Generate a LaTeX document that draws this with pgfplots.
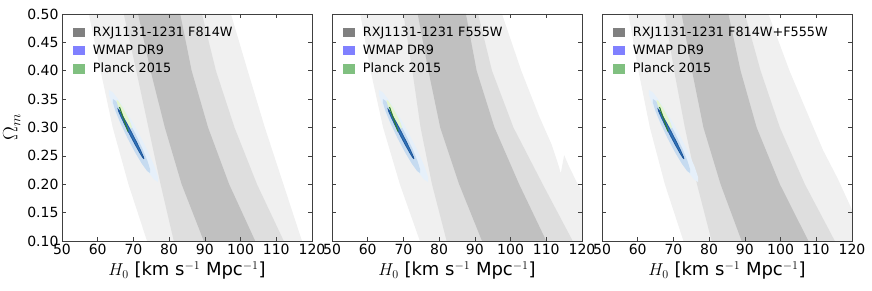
\documentclass[border=0pt]{standalone}
\usepackage{fontspec}
\setmainfont{DejaVu Sans}
\usepackage{pgfplots}
\pgfplotsset{compat=1.18}
\definecolor{gL}{HTML}{F0F0F0}
\definecolor{gM}{HTML}{DEDEDE}
\definecolor{gD}{HTML}{C0C0C0}
\definecolor{wm3}{HTML}{E6F0FA}
\definecolor{wm2}{HTML}{C6DBF0}
\definecolor{wm1}{HTML}{3373B8}
\definecolor{wm1e}{HTML}{1B559A}
\definecolor{pl2}{HTML}{E4F5CF}
\definecolor{pl1}{HTML}{2E7D32}
\definecolor{legG}{HTML}{808080}
\definecolor{legB}{HTML}{8080FF}
\definecolor{legP}{HTML}{80C080}

\newcommand{\cosmo}{%
\addplot[fill=wm3, draw=none, forget plot] coordinates {
(76.88,0.2039)(76.93,0.2120)(75.92,0.2312)(74.02,0.2585)(71.50,0.2900)(68.76,0.3207)(66.22,0.3458)(64.25,0.3618)
(63.16,0.3661)(63.11,0.3580)(64.12,0.3388)(66.02,0.3115)(68.54,0.2800)(71.28,0.2493)(73.82,0.2242)(75.79,0.2082)(76.88,0.2039)};
\addplot[fill=wm2, draw=none, forget plot] coordinates {
(74.64,0.2198)(74.68,0.2261)(73.92,0.2414)(72.48,0.2633)(70.59,0.2885)(68.52,0.3132)(66.59,0.3336)(65.11,0.3466)
(64.28,0.3502)(64.24,0.3439)(65.00,0.3286)(66.44,0.3067)(68.33,0.2815)(70.40,0.2568)(72.33,0.2364)(73.82,0.2234)(74.64,0.2198)};
\addplot[fill=pl2, draw=none, forget plot] coordinates {
(69.52,0.2984)(69.55,0.3009)(69.25,0.3069)(68.68,0.3153)(67.92,0.3250)(67.07,0.3345)(66.29,0.3422)(65.67,0.3471)
(65.32,0.3484)(65.29,0.3459)(65.59,0.3399)(66.16,0.3315)(66.93,0.3218)(67.77,0.3123)(68.56,0.3046)(69.17,0.2997)(69.52,0.2984)};
\addplot[fill=wm1, draw=wm1e, line width=0.7pt, forget plot] coordinates {
(72.96,0.2445)(72.81,0.2482)(72.12,0.2581)(71.01,0.2726)(69.64,0.2896)(68.22,0.3064)(66.98,0.3204)(66.08,0.3296)
(65.68,0.3326)(65.83,0.3288)(66.52,0.3189)(67.63,0.3044)(69.00,0.2874)(70.42,0.2707)(71.67,0.2566)(72.56,0.2474)(72.96,0.2445)};
\addplot[draw=pl1, line width=1.1pt, forget plot] coordinates {(66.1,0.336)(68.5,0.293)};
}

\pgfplotsset{
  panel/.style={
    scale only axis, width=250pt, height=227pt,
    xmin=50, xmax=120, ymin=0.1, ymax=0.5,
    xtick={50,60,70,80,90,100,110,120},
    ytick={0.1,0.15,0.2,0.25,0.3,0.35,0.4,0.45,0.5},
    yticklabel style={/pgf/number format/.cd, fixed, fixed zerofill, precision=2},
    /pgf/number format/assume math mode=true,
    tick align=inside, major tick length=4pt,
    axis line style={black!75, line width=0.8pt},
    tick style={black!75, line width=0.6pt},
    tick label style={font=\fontsize{14}{16}\selectfont},
    xlabel style={font=\fontsize{18}{20}\selectfont},
    ylabel style={font=\fontsize{20}{22}\selectfont},
    xlabel={$H_0$ [km s$^{-1}$ Mpc$^{-1}$]},
    axis on top,
    legend style={at={(0.032,0.959)}, anchor=north west, draw=none, fill=none,
      font=\fontsize{12.8}{15}\selectfont, row sep=4.2pt,
      nodes={inner sep=1pt, text height=9.5pt, text depth=2.5pt},
      /tikz/every odd column/.append style={column sep=7pt}},
    legend cell align=left,
    legend image code/.code={\fill[##1, draw=none] (0pt,-4.6pt) rectangle (11.7pt,4.6pt);},
  }
}

\begin{document}
\begin{tikzpicture}
% ---------- Panel 1 ----------
\begin{axis}[panel, at={(0pt,0pt)}, ylabel={$\Omega_m$}]
\addlegendimage{fill=legG, draw=none}\addlegendentry{RXJ1131-1231 F814W}
\addlegendimage{fill=legB, draw=none}\addlegendentry{WMAP DR9}
\addlegendimage{fill=legP, draw=none}\addlegendentry{Planck 2015}
\addplot[fill=gL, draw=none, forget plot] coordinates {
(57.5,0.5)(60.8,0.4)(64.2,0.3)(68.6,0.2)(73.8,0.1)(117.2,0.1)(112.0,0.2)(106.8,0.3)(102.0,0.4)(97.3,0.5)};
\addplot[fill=gM, draw=none, forget plot] coordinates {
(67.3,0.5)(70.8,0.4)(74.2,0.3)(77.6,0.2)(81.3,0.1)(112.1,0.1)(104.6,0.2)(98.3,0.3)(93.1,0.4)(89.2,0.5)};
\addplot[fill=gD, draw=none, forget plot] coordinates {
(71.3,0.5)(74.8,0.4)(78.8,0.3)(83.5,0.2)(89.7,0.1)(104.1,0.1)(96.8,0.2)(90.9,0.3)(86.3,0.4)(83.1,0.5)};
\cosmo
\end{axis}
% ---------- Panel 2 ----------
\begin{axis}[panel, at={(270pt,0pt)}, yticklabels={}]
\addlegendimage{fill=legG, draw=none}\addlegendentry{RXJ1131-1231 F555W}
\addlegendimage{fill=legB, draw=none}\addlegendentry{WMAP DR9}
\addlegendimage{fill=legP, draw=none}\addlegendentry{Planck 2015}
\addplot[fill=gL, draw=none, forget plot] coordinates {
(57.9,0.5)(60.8,0.4)(64.3,0.3)(69.0,0.2)(74.6,0.1)(121,0.1)(121,0.18)(118.7,0.2016)(116.4,0.231)(115.0,0.2515)
(114.05,0.219)(113.6,0.23)(111.5,0.27)(108.0,0.32)(103.0,0.4)(97.6,0.5)};
\addplot[fill=gM, draw=none, forget plot] coordinates {
(70.0,0.5)(72.5,0.4)(74.8,0.3)(78.0,0.2)(82.1,0.1)(117.4,0.1)(109.0,0.2)(100.8,0.3)(94.8,0.4)(90.9,0.5)};
\addplot[fill=gD, draw=none, forget plot] coordinates {
(74.0,0.5)(77.0,0.4)(80.3,0.3)(85.6,0.2)(92.0,0.1)(110.0,0.1)(102.4,0.2)(95.5,0.3)(90.5,0.4)(87.5,0.5)};
\cosmo
\end{axis}
% ---------- Panel 3 ----------
\begin{axis}[panel, at={(540pt,0pt)}, yticklabels={}]
\addlegendimage{fill=legG, draw=none}\addlegendentry{RXJ1131-1231 F814W+F555W}
\addlegendimage{fill=legB, draw=none}\addlegendentry{WMAP DR9}
\addlegendimage{fill=legP, draw=none}\addlegendentry{Planck 2015}
\addplot[fill=gL, draw=none, forget plot] coordinates {
(57.4,0.5)(60.2,0.4)(63.4,0.3)(67.6,0.2)(72.8,0.1)(121,0.1)(121,0.14)(120,0.155)(116,0.21)(111.9,0.26)(109.2,0.3)(102.5,0.4)(96.6,0.5)};
\addplot[fill=gM, draw=none, forget plot] coordinates {
(67.6,0.5)(70.2,0.4)(73.2,0.3)(76.6,0.2)(80.7,0.1)(115.2,0.1)(106.8,0.2)(99.8,0.3)(94.4,0.4)(90.0,0.5)};
\addplot[fill=gD, draw=none, forget plot] coordinates {
(72.3,0.5)(75.2,0.4)(78.4,0.3)(83.2,0.2)(89.1,0.1)(107.8,0.1)(99.8,0.2)(93.3,0.3)(88.8,0.4)(85.4,0.5)};
\cosmo
\end{axis}
\pgfresetboundingbox
\path[use as bounding box] (-62pt,-50pt) rectangle (810pt,241pt);
\end{tikzpicture}
\end{document}
